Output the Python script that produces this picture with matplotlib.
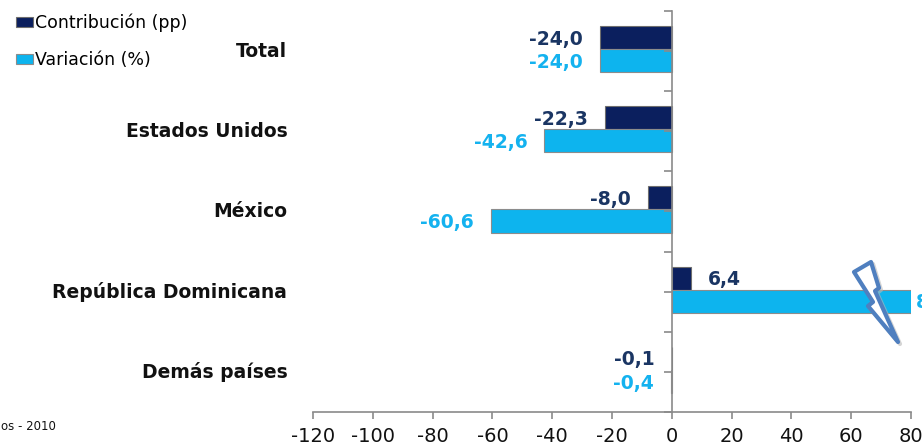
import matplotlib
matplotlib.use("Agg")
import matplotlib.pyplot as plt
import numpy as np
from matplotlib.patches import Polygon

# data
categories = ["Total", "Estados Unidos", "México", "República Dominicana", "Demás países"]
contribucion = [-24.0, -22.3, -8.0, 6.4, -0.1]
variacion = [-24.0, -42.6, -60.6, 812.4, -0.4]
series_names = ["Contribución (pp)", "Variación (%)"]
x_ticks = [-120, -100, -80, -60, -40, -20, 0, 20, 40, 60, 80]

DARK = "#0b1f5e"
LIGHT = "#0db4ee"
DARK_TXT = "#1a3563"
LIGHT_TXT = "#14b2ef"
AXIS_GRAY = "#8a8a8a"

W, H = 922, 446
fig = plt.figure(figsize=(W / 100, H / 100), dpi=100)
ax = fig.add_axes([313 / W, 1 - 412 / H, 598 / W, 401 / H])

y = np.arange(len(categories)) - 0.025
bh = 0.287
bars_c = ax.barh(y - bh / 2, contribucion, height=bh, color=DARK, edgecolor="#6e6e6e", linewidth=0.8)
bars_v = ax.barh(y + bh / 2, variacion, height=bh, color=LIGHT, edgecolor="#8c8c8c", linewidth=0.8)

ax.set_xlim(x_ticks[0], x_ticks[-1])
ax.set_ylim(len(categories) - 0.5, -0.5)

# vertical axis crosses at zero
for s in ["top", "right"]:
    ax.spines[s].set_visible(False)
ax.spines["left"].set_position(("data", 0))
ax.spines["left"].set_color(AXIS_GRAY)
ax.spines["bottom"].set_color(AXIS_GRAY)
ax.spines["left"].set_linewidth(1.2)
ax.spines["bottom"].set_linewidth(1.2)

ax.set_xticks(x_ticks)
ax.set_xticklabels([str(t) for t in x_ticks], fontsize=14, color="#111111")
ax.tick_params(axis="x", direction="out", length=5, color=AXIS_GRAY, width=1.2, pad=6)
ax.set_yticks(np.arange(-0.5, len(categories), 0.5))
ax.set_yticklabels([])
ax.tick_params(axis="y", direction="out", length=6, color=AXIS_GRAY, width=1.2)

# category names at the left of the plot
for yi, name in zip(np.arange(len(categories)), categories):
    ax.text(-0.043, yi, name, transform=ax.get_yaxis_transform(), ha="right", va="center",
            fontsize=13.5, fontweight="bold", color="#111111")

# value labels
def fmt(v):
    return f"{v:.1f}".replace(".", ",")

off = 17 * 200 / 598
xmax = x_ticks[-1]
for yi, v in zip(y, contribucion):
    xe = min(v, xmax)
    ax.text(xe - off if v < 0 else xe + off, yi - bh / 2 + 0.02, fmt(v), ha="right" if v < 0 else "left",
            va="center", fontsize=13.5, fontweight="bold", color=DARK_TXT, clip_on=False)
for yi, v in zip(y, variacion):
    xe = min(v, xmax)
    ax.text(xe - off if v < 0 else xe + 1.7, yi + bh / 2 + 0.02, fmt(v), ha="right" if v < 0 else "left",
            va="center", fontsize=13.5, fontweight="bold", color=LIGHT_TXT, clip_on=False)

# axis-break bolt over the long bar
bolt = [(854, 272), (871, 262), (879, 288), (875, 291), (898, 342), (868, 306), (873, 302)]
bolt = [(px / W, 1 - py / H) for px, py in bolt]
shadow = [(x + 2 / W, yy - 2 / H) for x, yy in bolt]
fig.patches.append(Polygon(shadow, closed=True, transform=fig.transFigure, facecolor="none",
                           edgecolor="#b8b8b8", linewidth=3, joinstyle="round", zorder=4, alpha=0.6))
fig.patches.append(Polygon(bolt, closed=True, transform=fig.transFigure, facecolor="white",
                           edgecolor="#4f7fbf", linewidth=3, joinstyle="round", zorder=5))

fig.legend([bars_c, bars_v], series_names, loc="upper left", bbox_to_anchor=(0.010, 0.985),
           frameon=False, fontsize=12.5, handlelength=0.95, handleheight=0.5, handletextpad=0.15,
           labelspacing=1.1, borderaxespad=0)

fig.text(1 / W, 1 - 426 / H, "os - 2010", ha="left", va="center", fontsize=8.5, color="#111111")

fig.savefig("out.png", dpi=100)
